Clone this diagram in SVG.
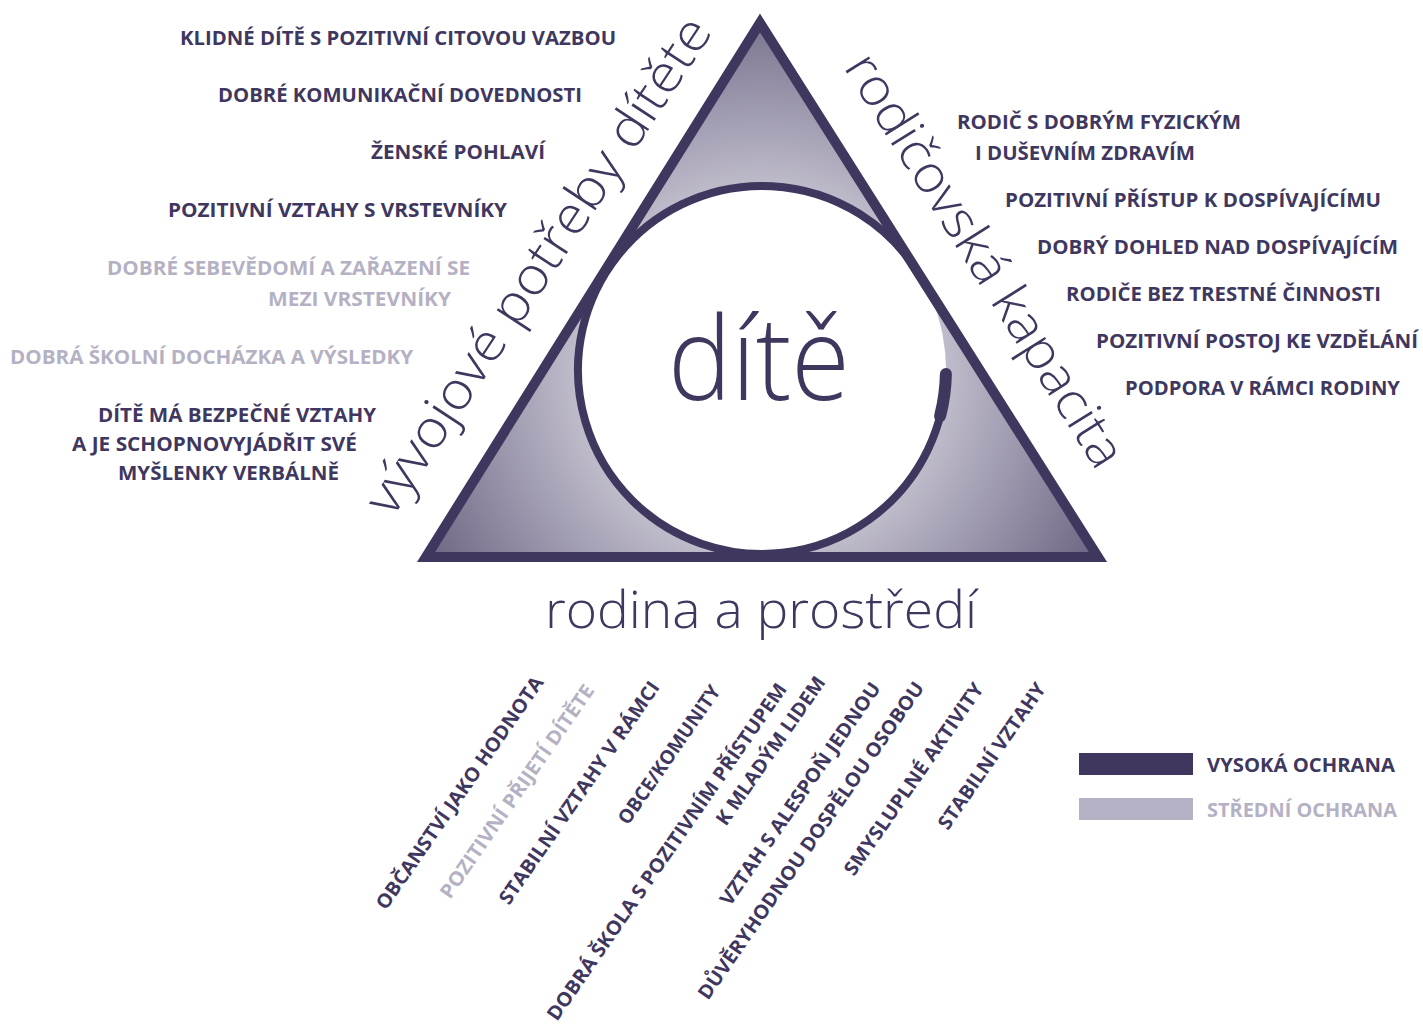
<svg xmlns="http://www.w3.org/2000/svg" width="1423" height="1025" viewBox="0 0 1423 1025">
<style>
.b{font-family:"Open Sans","Liberation Sans",sans-serif;font-weight:700;font-size:19.5px;fill:#40375f}
.l{fill:#b4b1c4}
.big{font-family:"Open Sans","Liberation Sans",sans-serif;font-weight:300;fill:#40375f}
</style>
<defs>
<radialGradient id="g" gradientUnits="userSpaceOnUse" cx="761" cy="371" r="400">
<stop offset="0.42" stop-color="#c6c3d1"/>
<stop offset="1" stop-color="#655e7d"/>
</radialGradient>
</defs>
<rect width="1423" height="1025" fill="#fff"/>
<g id="triangle">
<polygon points="760,23 426,557 1098,557" fill="url(#g)"/>
<circle cx="762" cy="370" r="184" fill="#fff"/>
<polygon points="760,23 426,557 1098,557" fill="none" stroke="#40375f" stroke-width="10" stroke-linejoin="miter"/>
</g>
<g id="circle">
<path d="M917.5,271.6 A184,184 0 1 0 946,370" fill="none" stroke="#40375f" stroke-width="8"/>
<path d="M945.9,374 A184,184 0 0 1 940.1,416.1" fill="none" stroke="#40375f" stroke-width="12" stroke-linecap="round"/>
<text class="big" x="759" y="400" font-size="116" text-anchor="middle" textLength="182" lengthAdjust="spacingAndGlyphs">dítě</text>
</g>
<g id="side-labels">
<text class="big" font-size="52" transform="translate(392,519) rotate(-56.6)" textLength="584" lengthAdjust="spacingAndGlyphs">vývojové potřeby dítěte</text>
<text class="big" font-size="52" transform="translate(843,67) rotate(57.9)" textLength="478" lengthAdjust="spacingAndGlyphs">rodičovská kapacita</text>
<text class="big" font-size="52" x="545" y="628" textLength="432" lengthAdjust="spacingAndGlyphs">rodina a prostředí</text>
</g>
<g id="left-factors" text-anchor="end">
<text class="b" x="616" y="45" textLength="436" lengthAdjust="spacingAndGlyphs">KLIDNÉ DÍTĚ S POZITIVNÍ CITOVOU VAZBOU</text>
<text class="b" x="582" y="102" textLength="364" lengthAdjust="spacingAndGlyphs">DOBRÉ KOMUNIKAČNÍ DOVEDNOSTI</text>
<text class="b" x="545" y="159" textLength="174" lengthAdjust="spacingAndGlyphs">ŽENSKÉ POHLAVÍ</text>
<text class="b" x="507" y="217" textLength="339" lengthAdjust="spacingAndGlyphs">POZITIVNÍ VZTAHY S VRSTEVNÍKY</text>
<text class="b l" x="470" y="275" textLength="363" lengthAdjust="spacingAndGlyphs">DOBRÉ SEBEVĚDOMÍ A ZAŘAZENÍ SE</text>
<text class="b l" x="451" y="306" textLength="183" lengthAdjust="spacingAndGlyphs">MEZI VRSTEVNÍKY</text>
<text class="b l" x="413" y="364" textLength="403" lengthAdjust="spacingAndGlyphs">DOBRÁ ŠKOLNÍ DOCHÁZKA A VÝSLEDKY</text>
<text class="b" x="376" y="422" textLength="278" lengthAdjust="spacingAndGlyphs">DÍTĚ MÁ BEZPEČNÉ VZTAHY</text>
<text class="b" x="357" y="451" textLength="285" lengthAdjust="spacingAndGlyphs">A JE SCHOPNOVYJÁDŘIT SVÉ</text>
<text class="b" x="339" y="480" textLength="221" lengthAdjust="spacingAndGlyphs">MYŠLENKY VERBÁLNĚ</text>
</g>
<g id="right-factors">
<text class="b" x="957" y="129" textLength="284" lengthAdjust="spacingAndGlyphs">RODIČ S DOBRÝM FYZICKÝM</text>
<text class="b" x="975" y="160" textLength="220" lengthAdjust="spacingAndGlyphs">I DUŠEVNÍM ZDRAVÍM</text>
<text class="b" x="1005" y="207" textLength="376" lengthAdjust="spacingAndGlyphs">POZITIVNÍ PŘÍSTUP K DOSPÍVAJÍCÍMU</text>
<text class="b" x="1037" y="254" textLength="361" lengthAdjust="spacingAndGlyphs">DOBRÝ DOHLED NAD DOSPÍVAJÍCÍM</text>
<text class="b" x="1066" y="301" textLength="315" lengthAdjust="spacingAndGlyphs">RODIČE BEZ TRESTNÉ ČINNOSTI</text>
<text class="b" x="1096" y="348" textLength="322" lengthAdjust="spacingAndGlyphs">POZITIVNÍ POSTOJ KE VZDĚLÁNÍ</text>
<text class="b" x="1125" y="395" textLength="275" lengthAdjust="spacingAndGlyphs">PODPORA V RÁMCI RODINY</text>
</g>
<g id="bottom-factors">
<text class="b" transform="translate(386,911) rotate(-55.3)" textLength="278" lengthAdjust="spacingAndGlyphs">OBČANSTVÍ JAKO HODNOTA</text>
<text class="b l" transform="translate(450,900) rotate(-55.3)" textLength="255" lengthAdjust="spacingAndGlyphs">POZITIVNÍ PŘIJETÍ DÍTĚTE</text>
<text class="b" transform="translate(509,906) rotate(-55.3)" textLength="266" lengthAdjust="spacingAndGlyphs">STABILNÍ VZTAHY V RÁMCI</text>
<text class="b" transform="translate(628,826) rotate(-55.3)" textLength="164" lengthAdjust="spacingAndGlyphs">OBCE/KOMUNITY</text>
<text class="b" transform="translate(557,1022) rotate(-55.3)" textLength="405" lengthAdjust="spacingAndGlyphs">DOBRÁ ŠKOLA S POZITIVNÍM PŘÍSTUPEM</text>
<text class="b" transform="translate(726,827) rotate(-55.3)" textLength="176" lengthAdjust="spacingAndGlyphs">K MLADÝM LIDEM</text>
<text class="b" transform="translate(730,907) rotate(-55.3)" textLength="266" lengthAdjust="spacingAndGlyphs">VZTAH S ALESPOŇ JEDNOU</text>
<text class="b" transform="translate(708,1001) rotate(-55.3)" textLength="381" lengthAdjust="spacingAndGlyphs">DŮVĚRYHODNOU DOSPĚLOU OSOBOU</text>
<text class="b" transform="translate(854,877) rotate(-55.3)" textLength="229" lengthAdjust="spacingAndGlyphs">SMYSLUPLNÉ AKTIVITY</text>
<text class="b" transform="translate(948,831) rotate(-55.3)" textLength="173" lengthAdjust="spacingAndGlyphs">STABILNÍ VZTAHY</text>
</g>
<g id="legend">
<rect x="1079" y="753" width="114" height="22" fill="#40375f"/>
<rect x="1079" y="798" width="114" height="22" fill="#b4b1c4"/>
<text class="b" x="1207" y="772" textLength="188" lengthAdjust="spacingAndGlyphs">VYSOKÁ OCHRANA</text>
<text class="b l" x="1207" y="817" textLength="190" lengthAdjust="spacingAndGlyphs">STŘEDNÍ OCHRANA</text>
</g>
</svg>
